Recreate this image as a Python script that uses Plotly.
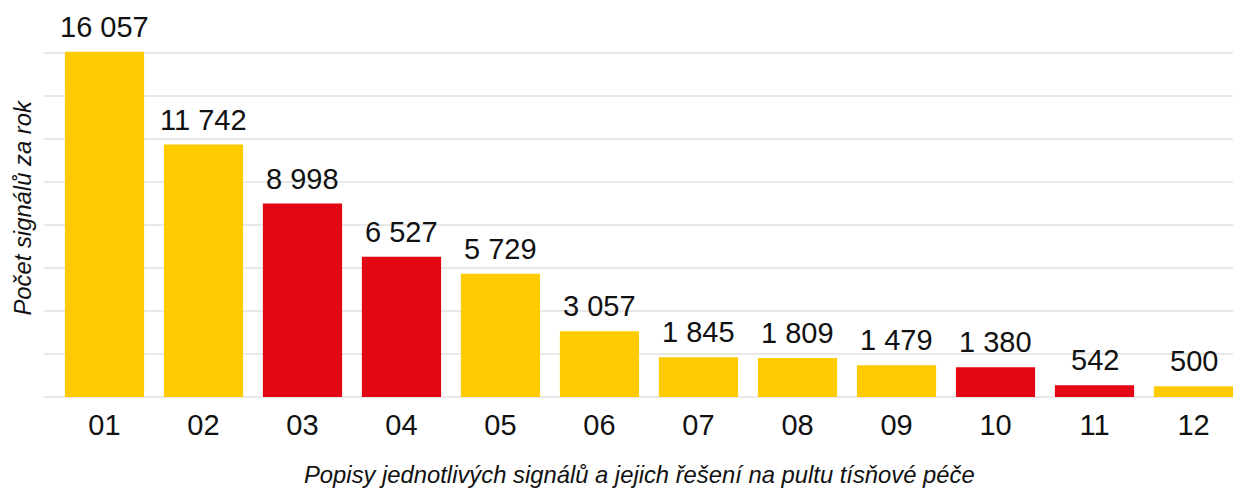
import plotly.graph_objects as go

categories = ["01", "02", "03", "04", "05", "06", "07", "08", "09", "10", "11", "12"]
values = [16057, 11742, 8998, 6527, 5729, 3057, 1845, 1809, 1479, 1380, 542, 500]
highlight = [False, False, True, True, False, False, False, False, False, True, True, False]

YELLOW = "#FECB00"
RED = "#E30613"
colors = [RED if h else YELLOW for h in highlight]
labels = [f"{v:,}".replace(",", " ") for v in values]

FONT = "Liberation Sans, Arial, sans-serif"
TXT = "#111111"

fig = go.Figure()
fig.add_trace(go.Bar(
    x=categories, y=values, marker_color=colors, marker_line_width=0,
    hoverinfo="skip",
))

for i, (v, t) in enumerate(zip(values, labels)):
    fig.add_annotation(x=i, y=v, text=t, showarrow=False, yanchor="bottom",
                       yshift=7, font=dict(size=29, color=TXT, family=FONT))

fig.add_annotation(text="<i>Počet signálů za rok</i>", xref="paper", yref="paper",
                   x=0, y=0.5, xanchor="center", yanchor="middle", xshift=-22, yshift=-5,
                   textangle=-90, showarrow=False,
                   font=dict(size=23.8, color=TXT, family=FONT))
fig.add_annotation(text="<i>Popisy jednotlivých signálů a jejich řešení na pultu tísňové péče</i>",
                   xref="paper", yref="paper", x=0.5, y=0, xanchor="center",
                   yanchor="middle", yshift=-77, xshift=1, showarrow=False,
                   font=dict(size=23.8, color=TXT, family=FONT))

fig.update_layout(
    width=1233, height=488,
    margin=dict(l=44, r=0, t=10, b=91),
    paper_bgcolor="white", plot_bgcolor="white",
    bargap=0.2, showlegend=False,
    font=dict(family=FONT, color=TXT),
    xaxis=dict(type="category", range=[-0.611, 11.399], showgrid=False, showline=False,
               ticks="", ticklabelstandoff=8, tickfont=dict(size=29, color=TXT),
               zeroline=False),
    yaxis=dict(range=[0, 18000], dtick=2000, showgrid=True, gridcolor="#E8E8E8",
               gridwidth=2, showticklabels=False, zeroline=True,
               zerolinecolor="#E8E8E8", zerolinewidth=2, showline=False),
)

fig.write_html("out.html", config={"displayModeBar": False},
               post_script="document.body.style.margin='0';")
